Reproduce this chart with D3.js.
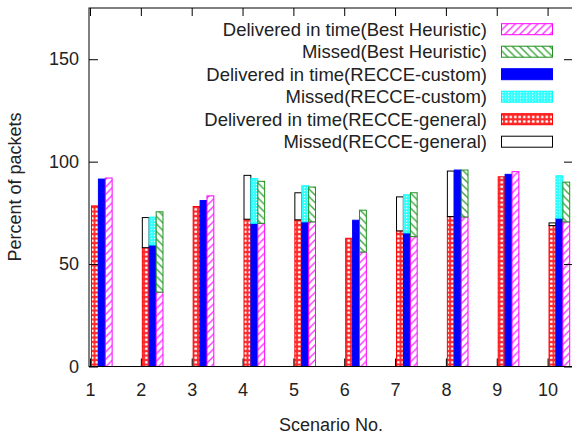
<!DOCTYPE html>
<html lang="en">
<head>
<meta charset="UTF-8">
<title>Percent of packets per scenario</title>
<style>
    body { margin: 0; background: #fff; }
    svg { display: block; font-family: "Liberation Sans", Arial, sans-serif; }
    .axis text { font-size: 18px; fill: #222; font-family: "Liberation Sans", Arial, sans-serif; }
    .axis line { stroke: #000; }
    .axis path { display: none; }
</style>
</head>
<body>
<svg id="chart"></svg>

<script src="https://cdn.jsdelivr.net/npm/d3@7"></script>
<script>
    // values (percent of packets)
    var scenarios = [1, 2, 3, 4, 5, 6, 7, 8, 9, 10];
    var generalDelivered = [78.4, 58.0, 78.1, 71.9, 71.6, 62.6, 66.2, 73.2, 92.6, 68.8];
    var generalMissed    = [0, 14.7, 0, 21.4, 13.2, 0, 16.6, 22.2, 0, 1.3];
    var customDelivered  = [91.5, 59.3, 81.0, 69.9, 70.6, 71.4, 65.2, 95.9, 93.8, 72.4];
    var customMissed     = [0, 13.6, 0, 21.8, 17.6, 0, 18.6, 0, 0, 20.7];
    var heurDelivered    = [92.0, 36.3, 83.3, 69.9, 70.6, 55.9, 63.4, 73.0, 95.1, 70.6];
    var heurMissed       = [0, 39.2, 0, 20.5, 17.0, 20.4, 21.4, 22.9, 0, 19.4];
    var yTicks = [0, 50, 100, 150];
    var legendLabels = [
        "Delivered in time(Best Heuristic)",
        "Missed(Best Heuristic)",
        "Delivered in time(RECCE-custom)",
        "Missed(RECCE-custom)",
        "Delivered in time(RECCE-general)",
        "Missed(RECCE-general)"
    ];

    (function () {
        var width = 572, height = 435;
        var pLeft = 89, pRight = 573, pTop = 8, pBottom = 366.5;

        var svg = d3.select("#chart").attr("width", width).attr("height", height);

        var x = d3.scaleLinear().domain([0.98, 10.5]).range([pLeft, pRight]);
        var y = d3.scaleLinear().domain([0, 175]).range([pBottom, pTop]);

        // fill patterns (gnuplot style)
        var defs = svg.append("defs");

        var p = defs.append("pattern").attr("id", "pGenDel").attr("patternUnits", "userSpaceOnUse")
            .attr("width", 4.5).attr("height", 4.5);
        p.append("rect").attr("width", 4.5).attr("height", 4.5).attr("fill", "#ff2a2a");
        p.append("circle").attr("cx", 2.25).attr("cy", 2.25).attr("r", 1.4).attr("fill", "#fff");

        p = defs.append("pattern").attr("id", "pCusMiss").attr("patternUnits", "userSpaceOnUse")
            .attr("width", 3).attr("height", 3);
        p.append("rect").attr("width", 3).attr("height", 3).attr("fill", "#33ffff");
        p.append("rect").attr("x", 1).attr("y", 1).attr("width", 1.2).attr("height", 1.2).attr("fill", "#e0ffff");

        p = defs.append("pattern").attr("id", "pHeurDel").attr("patternUnits", "userSpaceOnUse")
            .attr("width", 7.5).attr("height", 7.5);
        p.append("rect").attr("width", 7.5).attr("height", 7.5).attr("fill", "#fff");
        p.append("path").attr("d", "M0,7.5 L7.5,0 M-2,2 L2,-2 M5.5,9.5 L9.5,5.5")
            .attr("stroke", "#ff33ff").attr("stroke-width", 1.4);

        p = defs.append("pattern").attr("id", "pHeurMiss").attr("patternUnits", "userSpaceOnUse")
            .attr("width", 7.5).attr("height", 7.5);
        p.append("rect").attr("width", 7.5).attr("height", 7.5).attr("fill", "#fff");
        p.append("path").attr("d", "M0,0 L7.5,7.5 M-2,5.5 L2,9.5 M5.5,-2 L9.5,2")
            .attr("stroke", "#3aa63a").attr("stroke-width", 1.4);

        var series = [
            {name: "general", offset: 0.096, del: generalDelivered, miss: generalMissed,
                delFill: "url(#pGenDel)", delStroke: "#ff0000", missFill: "#fff", missStroke: "#000"},
            {name: "custom", offset: 0.232, del: customDelivered, miss: customMissed,
                delFill: "#0000ff", delStroke: "#0000ff", missFill: "url(#pCusMiss)", missStroke: "#00ffff"},
            {name: "heur", offset: 0.368, del: heurDelivered, miss: heurMissed,
                delFill: "url(#pHeurDel)", delStroke: "#ff00ff", missFill: "url(#pHeurMiss)", missStroke: "#209020"}
        ];
        var bw = 0.134;

        series.forEach(function (s) {
            var g = svg.append("g").attr("class", "bars-" + s.name);
            // delivered part
            g.selectAll("rect.del")
                .data(scenarios)
                .enter()
                .append("rect")
                .attr("class", "del")
                .attr("x", function (d) { return x(d + s.offset - bw / 2); })
                .attr("width", x(bw) - x(0))
                .attr("y", function (d, i) { return y(s.del[i]); })
                .attr("height", function (d, i) { return y(0) - y(s.del[i]); })
                .attr("fill", s.delFill)
                .attr("stroke", s.delStroke)
                .attr("stroke-width", 1);
            // missed part stacked on top
            g.selectAll("rect.miss")
                .data(scenarios.filter(function (d, i) { return s.miss[i] > 0; }))
                .enter()
                .append("rect")
                .attr("class", "miss")
                .attr("x", function (d) { return x(d + s.offset - bw / 2); })
                .attr("width", x(bw) - x(0))
                .attr("y", function (d) { return y(s.del[d - 1] + s.miss[d - 1]); })
                .attr("height", function (d) { return y(s.del[d - 1]) - y(s.del[d - 1] + s.miss[d - 1]); })
                .attr("fill", s.missFill)
                .attr("stroke", s.missStroke)
                .attr("stroke-width", 1);
        });

        // axes, ticks on all four sides pointing inward
        svg.append("g").attr("class", "axis")
            .attr("transform", "translate(" + pLeft + ",0)")
            .call(d3.axisLeft(y).tickValues(yTicks).tickSize(-9).tickPadding(10));
        svg.append("g").attr("class", "axis")
            .attr("transform", "translate(" + pRight + ",0)")
            .call(d3.axisRight(y).tickValues(yTicks).tickSize(-9).tickFormat(""));
        svg.append("g").attr("class", "axis")
            .attr("transform", "translate(0," + pBottom + ")")
            .call(d3.axisBottom(x).tickValues(scenarios).tickSize(-8).tickPadding(17).tickFormat(d3.format("d")));
        svg.append("g").attr("class", "axis")
            .attr("transform", "translate(0," + pTop + ")")
            .call(d3.axisTop(x).tickValues(scenarios).tickSize(-8).tickFormat(""));

        svg.append("rect")
            .attr("x", pLeft).attr("y", pTop)
            .attr("width", pRight - pLeft).attr("height", pBottom - pTop)
            .attr("fill", "none").attr("stroke", "#000").attr("stroke-width", 1);

        // axis titles
        svg.append("text")
            .attr("transform", "translate(21,187) rotate(-90)")
            .attr("text-anchor", "middle")
            .style("font-size", "18px").style("fill", "#222")
            .text("Percent of packets");
        svg.append("text")
            .attr("x", 331).attr("y", 431)
            .attr("text-anchor", "middle")
            .style("font-size", "18px").style("fill", "#222")
            .text("Scenario No.");

        // legend
        var legendFills = [series[2].delFill, series[2].missFill, series[1].delFill, series[1].missFill, series[0].delFill, series[0].missFill];
        var legendStrokes = [series[2].delStroke, series[2].missStroke, series[1].delStroke, series[1].missStroke, series[0].delStroke, series[0].missStroke];

        var rows = svg.append("g").attr("class", "legend")
            .selectAll("g")
            .data(legendLabels)
            .enter()
            .append("g")
            .attr("transform", function (d, i) { return "translate(0," + (29.2 + i * 22.5) + ")"; });
        rows.append("text")
            .attr("x", 487)
            .attr("dy", "0.35em")
            .attr("text-anchor", "end")
            .style("font-size", "18.5px").style("fill", "#222")
            .text(function (d) { return d; });
        rows.append("rect")
            .attr("x", 501.5).attr("y", -5.5)
            .attr("width", 51).attr("height", 11)
            .attr("fill", function (d, i) { return legendFills[i]; })
            .attr("stroke", function (d, i) { return legendStrokes[i]; })
            .attr("stroke-width", 1);
    })();
</script>
</body>
</html>
